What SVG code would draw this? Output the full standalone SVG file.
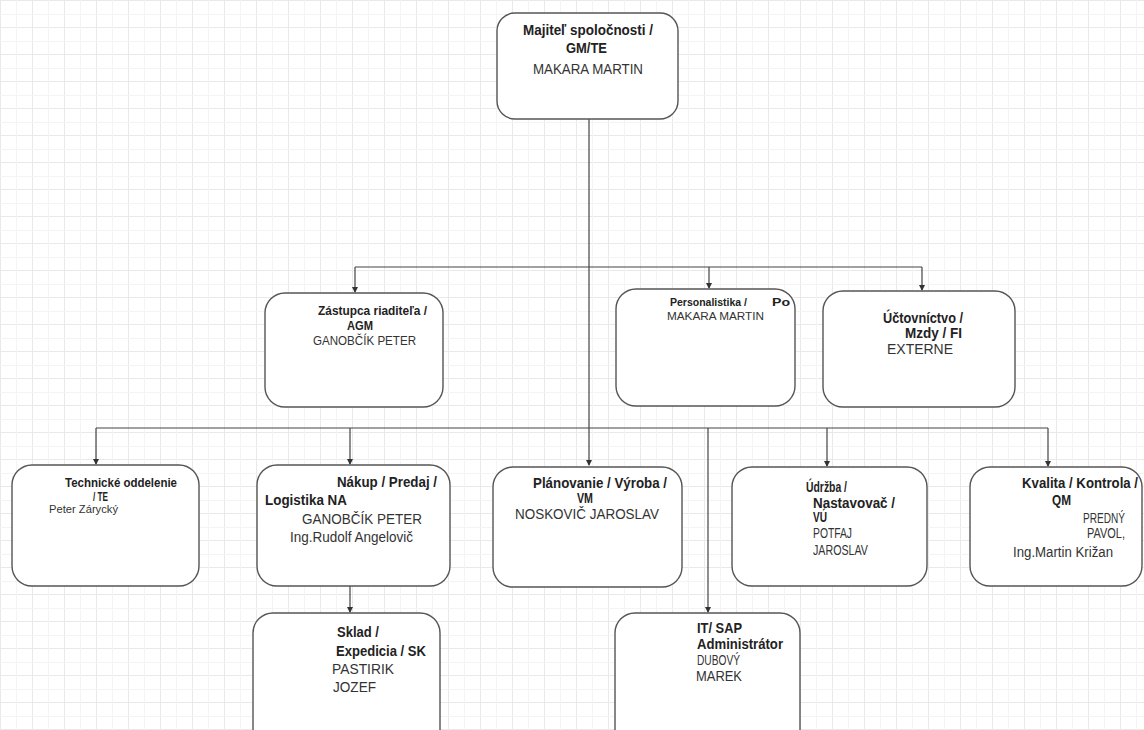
<svg xmlns="http://www.w3.org/2000/svg" width="1144" height="730" viewBox="0 0 1144 730">
<defs>
<pattern id="grid" width="32" height="27" patternUnits="userSpaceOnUse" x="0" y="0">
<path d="M0.5 0V27M0 0.5H32" fill="none" stroke="#e9e9e9" stroke-width="1"/>
<path d="M16.5 0V27M0 14.5H32" fill="none" stroke="#f4f4f4" stroke-width="1"/>
</pattern>
<marker id="arr" markerWidth="6" markerHeight="6" refX="5" refY="3" orient="auto" markerUnits="userSpaceOnUse">
<path d="M0 0L6 3L0 6Z" fill="#333"/>
</marker>
<style>
.box{fill:#fff;stroke:#555;stroke-width:1.4}
.ln{fill:none;stroke:#444;stroke-width:1.2}
.b{font-family:"Liberation Sans Narrow","Liberation Sans",Arial,sans-serif;font-weight:bold;fill:#222}
.r{font-family:"Liberation Sans Narrow","Liberation Sans",Arial,sans-serif;fill:#333}
</style>
</defs>
<rect width="1144" height="730" fill="#fff"/>
<rect width="1144" height="730" fill="url(#grid)"/>

<g id="connectors">
<path class="ln" d="M589 119V465" marker-end="url(#arr)"/>
<path class="ln" d="M355 267H922"/>
<path class="ln" d="M355 267V292" marker-end="url(#arr)"/>
<path class="ln" d="M709 267V288" marker-end="url(#arr)"/>
<path class="ln" d="M922 267V290" marker-end="url(#arr)"/>
<path class="ln" d="M96 428H1048"/>
<path class="ln" d="M96 428V464" marker-end="url(#arr)"/>
<path class="ln" d="M350 428V464" marker-end="url(#arr)"/>
<path class="ln" d="M827 428V466" marker-end="url(#arr)"/>
<path class="ln" d="M1048 428V466" marker-end="url(#arr)"/>
<path class="ln" d="M708 428V612" marker-end="url(#arr)"/>
<path class="ln" d="M350 586V612" marker-end="url(#arr)"/>
</g>

<g id="n-majitel">
<rect class="box" x="497" y="13" width="181" height="106" rx="18"/>
<text class="b" x="523" y="35" font-size="15" textLength="130" lengthAdjust="spacingAndGlyphs">Majiteľ spoločnosti /</text>
<text class="b" x="566" y="53" font-size="15" textLength="41" lengthAdjust="spacingAndGlyphs">GM/TE</text>
<text class="r" x="533" y="74" font-size="15" textLength="110" lengthAdjust="spacingAndGlyphs">MAKARA MARTIN</text>
</g>

<g id="n-zastupca">
<rect class="box" x="265" y="293" width="178" height="114" rx="20"/>
<text class="b" x="318" y="315" font-size="13" textLength="109" lengthAdjust="spacingAndGlyphs">Zástupca riaditeľa /</text>
<text class="b" x="347" y="330" font-size="13" textLength="26" lengthAdjust="spacingAndGlyphs">AGM</text>
<text class="r" x="313" y="345" font-size="13" textLength="103" lengthAdjust="spacingAndGlyphs">GANOBČÍK PETER</text>
</g>

<g id="n-personalistika">
<rect class="box" x="616" y="289" width="179" height="117" rx="20"/>
<text class="b" x="670" y="306" font-size="11.5" textLength="77" lengthAdjust="spacingAndGlyphs">Personalistika /</text>
<text class="b" x="772" y="306" font-size="11.5" textLength="18" lengthAdjust="spacingAndGlyphs">Po</text>
<text class="r" x="667" y="320" font-size="11.5" textLength="97" lengthAdjust="spacingAndGlyphs">MAKARA MARTIN</text>
</g>

<g id="n-uctovnictvo">
<rect class="box" x="823" y="291" width="192" height="116" rx="20"/>
<text class="b" x="883" y="323" font-size="14" textLength="80" lengthAdjust="spacingAndGlyphs">Účtovníctvo /</text>
<text class="b" x="905" y="338" font-size="14" textLength="57" lengthAdjust="spacingAndGlyphs">Mzdy / FI</text>
<text class="r" x="887" y="354" font-size="15" textLength="66" lengthAdjust="spacingAndGlyphs">EXTERNE</text>
</g>

<g id="n-technicke">
<rect class="box" x="12" y="465" width="187" height="121" rx="20"/>
<text class="b" x="65" y="487" font-size="12" textLength="112" lengthAdjust="spacingAndGlyphs">Technické oddelenie</text>
<text class="b" x="93" y="501" font-size="12" textLength="15" lengthAdjust="spacingAndGlyphs">/ TE</text>
<text class="r" x="49" y="513" font-size="11" textLength="69" lengthAdjust="spacingAndGlyphs">Peter Zárycký</text>
</g>

<g id="n-nakup">
<rect class="box" x="257" y="465" width="193" height="121" rx="20"/>
<text class="b" x="337" y="487" font-size="14" textLength="100" lengthAdjust="spacingAndGlyphs">Nákup / Predaj /</text>
<text class="b" x="265" y="505" font-size="14" textLength="82" lengthAdjust="spacingAndGlyphs">Logistika NA</text>
<text class="r" x="302" y="524" font-size="15" textLength="120" lengthAdjust="spacingAndGlyphs">GANOBČÍK PETER</text>
<text class="r" x="290" y="542" font-size="14" textLength="123" lengthAdjust="spacingAndGlyphs">Ing.Rudolf Angelovič</text>
</g>

<g id="n-planovanie">
<rect class="box" x="493" y="467" width="189" height="120" rx="20"/>
<text class="b" x="533" y="488" font-size="14" textLength="134" lengthAdjust="spacingAndGlyphs">Plánovanie / Výroba /</text>
<text class="b" x="577" y="503" font-size="14" textLength="16" lengthAdjust="spacingAndGlyphs">VM</text>
<text class="r" x="515" y="519" font-size="15" textLength="144" lengthAdjust="spacingAndGlyphs">NOSKOVIČ JAROSLAV</text>
</g>

<g id="n-udrzba">
<rect class="box" x="732" y="467" width="195" height="119" rx="20"/>
<text class="b" x="806" y="492" font-size="14" textLength="41" lengthAdjust="spacingAndGlyphs">Údržba /</text>
<text class="b" x="813" y="508" font-size="14" textLength="82" lengthAdjust="spacingAndGlyphs">Nastavovač /</text>
<text class="b" x="813" y="522" font-size="14" textLength="14" lengthAdjust="spacingAndGlyphs">VÚ</text>
<text class="r" x="813" y="538" font-size="14" textLength="39" lengthAdjust="spacingAndGlyphs">POTFAJ</text>
<text class="r" x="813" y="555" font-size="14" textLength="55" lengthAdjust="spacingAndGlyphs">JAROSLAV</text>
</g>

<g id="n-kvalita">
<rect class="box" x="970" y="467" width="172" height="119" rx="20"/>
<text class="b" x="1022" y="488" font-size="14" textLength="116" lengthAdjust="spacingAndGlyphs">Kvalita / Kontrola /</text>
<text class="b" x="1052" y="505" font-size="14" textLength="19" lengthAdjust="spacingAndGlyphs">QM</text>
<text class="r" x="1083" y="523" font-size="14" textLength="42" lengthAdjust="spacingAndGlyphs">PREDNÝ</text>
<text class="r" x="1087" y="538" font-size="14" textLength="38" lengthAdjust="spacingAndGlyphs">PAVOL,</text>
<text class="r" x="1013" y="557" font-size="14" textLength="100" lengthAdjust="spacingAndGlyphs">Ing.Martin Križan</text>
</g>

<g id="n-sklad">
<rect class="box" x="253" y="613" width="187" height="140" rx="20"/>
<text class="b" x="337" y="637" font-size="14" textLength="42" lengthAdjust="spacingAndGlyphs">Sklad /</text>
<text class="b" x="336" y="656" font-size="14" textLength="90" lengthAdjust="spacingAndGlyphs">Expedicia / SK</text>
<text class="r" x="332" y="674" font-size="15" textLength="62" lengthAdjust="spacingAndGlyphs">PASTIRIK</text>
<text class="r" x="333" y="692" font-size="15" textLength="43" lengthAdjust="spacingAndGlyphs">JOZEF</text>
</g>

<g id="n-it">
<rect class="box" x="615" y="613" width="185" height="140" rx="20"/>
<text class="b" x="697" y="633" font-size="14" textLength="45" lengthAdjust="spacingAndGlyphs">IT/ SAP</text>
<text class="b" x="697" y="649" font-size="14" textLength="86" lengthAdjust="spacingAndGlyphs">Administrátor</text>
<text class="r" x="697" y="665" font-size="14" textLength="43" lengthAdjust="spacingAndGlyphs">DUBOVÝ</text>
<text class="r" x="696" y="681" font-size="15" textLength="46" lengthAdjust="spacingAndGlyphs">MAREK</text>
</g>
</svg>
